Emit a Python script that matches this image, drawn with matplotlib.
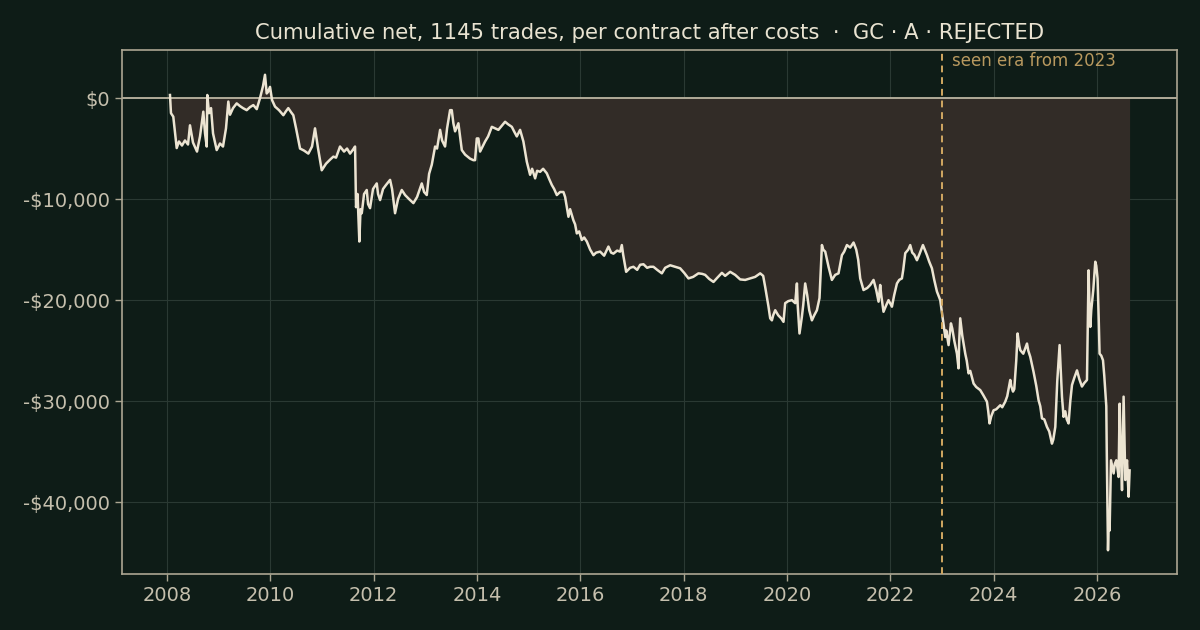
import matplotlib
matplotlib.use("Agg")
import matplotlib.pyplot as plt
import numpy as np

# ---- data (decimal year, cumulative net $) ----
trade_year = [
2008.058,2008.077,2008.122,2008.188,2008.232,2008.290,2008.348,2008.407,2008.445,2008.503,
2008.581,2008.639,2008.703,2008.736,2008.769,2008.780,2008.813,2008.852,2008.891,2008.962,
2009.026,2009.084,2009.142,2009.187,2009.220,2009.278,2009.349,2009.413,2009.471,2009.543,
2009.607,2009.671,2009.737,2009.801,2009.859,2009.897,2009.930,2009.955,2009.994,2010.033,
2010.091,2010.168,2010.252,2010.304,2010.348,2010.401,2010.445,2010.498,2010.575,2010.652,
2010.736,2010.807,2010.865,2010.924,2010.995,2011.078,2011.156,2011.220,2011.272,2011.349,
2011.427,2011.485,2011.543,2011.601,2011.640,2011.659,2011.688,2011.723,2011.746,2011.770,
2011.814,2011.866,2011.892,2011.930,2011.988,2012.060,2012.085,2012.124,2012.182,2012.240,
2012.318,2012.356,2012.414,2012.472,2012.544,2012.608,2012.685,2012.769,2012.840,2012.931,
2012.976,2013.028,2013.073,2013.125,2013.189,2013.227,2013.286,2013.324,2013.382,2013.421,
2013.479,2013.512,2013.543,2013.576,2013.640,2013.706,2013.770,2013.866,2013.930,2013.963,
2013.996,2014.027,2014.060,2014.157,2014.215,2014.287,2014.350,2014.414,2014.486,2014.544,
2014.602,2014.674,2014.718,2014.770,2014.834,2014.898,2014.964,2015.028,2015.067,2015.125,
2015.164,2015.222,2015.280,2015.351,2015.396,2015.448,2015.493,2015.545,2015.609,2015.673,
2015.706,2015.770,2015.802,2015.866,2015.899,2015.932,2015.977,2016.029,2016.074,2016.126,
2016.190,2016.254,2016.306,2016.383,2016.461,2016.544,2016.596,2016.641,2016.712,2016.771,
2016.803,2016.829,2016.887,2016.964,2017.028,2017.100,2017.158,2017.222,2017.293,2017.351,
2017.415,2017.487,2017.578,2017.642,2017.739,2017.835,2017.932,2018.010,2018.093,2018.184,
2018.286,2018.358,2018.416,2018.494,2018.577,2018.648,2018.740,2018.803,2018.900,2018.997,
2019.094,2019.191,2019.287,2019.384,2019.481,2019.539,2019.578,2019.642,2019.675,2019.708,
2019.733,2019.772,2019.830,2019.888,2019.932,2019.965,2020.023,2020.095,2020.126,2020.159,
2020.192,2020.207,2020.242,2020.288,2020.314,2020.352,2020.391,2020.430,2020.482,2020.527,
2020.579,2020.629,2020.676,2020.701,2020.740,2020.804,2020.869,2020.933,2020.997,2021.063,
2021.107,2021.160,2021.224,2021.288,2021.340,2021.378,2021.417,2021.481,2021.553,2021.611,
2021.675,2021.727,2021.772,2021.804,2021.824,2021.868,2021.921,2021.965,2022.031,2022.075,
2022.128,2022.172,2022.224,2022.250,2022.289,2022.347,2022.385,2022.424,2022.463,2022.515,
2022.560,2022.631,2022.666,2022.709,2022.753,2022.805,2022.850,2022.902,2022.966,2023.018,
2023.063,2023.082,2023.127,2023.173,2023.198,2023.237,2023.289,2023.320,2023.334,2023.353,
2023.392,2023.450,2023.479,2023.514,2023.547,2023.611,2023.663,2023.740,2023.799,2023.870,
2023.895,2023.920,2023.953,2023.998,2024.050,2024.128,2024.166,2024.224,2024.263,2024.321,
2024.340,2024.374,2024.399,2024.437,2024.463,2024.496,2024.515,2024.573,2024.645,2024.670,
2024.708,2024.772,2024.825,2024.869,2024.902,2024.935,2024.980,2025.032,2025.076,2025.128,
2025.154,2025.193,2025.231,2025.276,2025.299,2025.322,2025.353,2025.386,2025.415,2025.450,
2025.483,2025.516,2025.560,2025.613,2025.657,2025.709,2025.754,2025.806,2025.822,2025.837,
2025.851,2025.870,2025.889,2025.928,2025.967,2025.986,2026.011,2026.034,2026.050,2026.083,
2026.116,2026.141,2026.160,2026.180,2026.189,2026.213,2026.228,2026.244,2026.271,2026.296,
2026.322,2026.345,2026.374,2026.393,2026.418,2026.438,2026.461,2026.484,2026.499,2026.515,
2026.529,2026.548,2026.567,2026.581,2026.596,2026.612,2026.631,
]
cum_net = [
300,-1500,-1850,-4950,-4300,-4700,-4200,-4600,-2700,-4400,
-5300,-3800,-1350,-3500,-4800,300,-1500,-1000,-3500,-5150,
-4500,-4800,-3000,-350,-1650,-1000,-530,-800,-1000,-1200,
-900,-700,-1100,0,1200,2300,450,600,1100,-200,
-850,-1200,-1700,-1300,-1000,-1400,-1700,-3000,-5000,-5200,
-5500,-4800,-3000,-5000,-7150,-6500,-6100,-5800,-5900,-4800,
-5300,-5000,-5500,-5100,-4800,-10800,-9500,-14200,-11000,-11400,
-9500,-9100,-10500,-10900,-9000,-8450,-9500,-10100,-9000,-8600,
-8100,-9000,-11400,-10000,-9100,-9600,-10000,-10400,-9800,-8450,
-9300,-9600,-7500,-6600,-4800,-5000,-3150,-4200,-4800,-3000,
-1200,-1200,-2500,-3300,-2500,-5150,-5600,-6000,-6150,-6150,
-4000,-4000,-5300,-4300,-3800,-2850,-3000,-3150,-2700,-2350,
-2600,-2850,-3300,-3800,-3150,-4300,-6300,-7600,-7000,-7950,
-7200,-7300,-7000,-7450,-8000,-8600,-9000,-9600,-9300,-9300,
-9800,-11750,-11000,-12100,-12500,-13400,-13200,-14050,-13800,-14200,
-15000,-15550,-15300,-15200,-15600,-14700,-15300,-15400,-15100,-15200,
-14550,-15500,-17200,-16800,-16700,-17000,-16500,-16450,-16800,-16700,
-16700,-17000,-17350,-16800,-16550,-16700,-16850,-17300,-17850,-17700,
-17350,-17400,-17500,-17900,-18200,-17800,-17300,-17600,-17200,-17500,
-17950,-18000,-17850,-17700,-17350,-17600,-18700,-20650,-21800,-22000,
-21500,-21000,-21500,-21800,-22150,-20300,-20100,-20000,-20150,-20300,
-18350,-20500,-23300,-21650,-20500,-18350,-19500,-21000,-22000,-21500,
-21000,-19800,-14550,-15000,-15200,-16700,-18000,-17500,-17350,-15550,
-15200,-14550,-14800,-14300,-15000,-16000,-17850,-19000,-18800,-18500,
-18000,-19000,-20150,-18500,-19500,-21150,-20500,-20000,-20650,-19500,
-18350,-18000,-17850,-17000,-15350,-15000,-14550,-15300,-15500,-16050,
-15500,-14550,-15000,-15550,-16200,-16850,-18000,-19150,-20000,-22000,
-23650,-23000,-24450,-22300,-22800,-24000,-25300,-26750,-24000,-21800,
-23500,-25300,-26000,-27250,-27000,-28250,-28600,-28900,-29400,-30050,
-31000,-32200,-31500,-30900,-30800,-30400,-30600,-30050,-29500,-27900,
-28500,-29050,-28800,-26000,-23300,-24500,-24950,-25300,-24300,-25000,
-25600,-27100,-28500,-29900,-30500,-31700,-31800,-32550,-33000,-34200,
-33800,-32550,-28000,-24450,-27000,-29550,-31550,-31000,-31800,-32200,
-30000,-28400,-27700,-26950,-27800,-28550,-28200,-27900,-22000,-17050,
-20000,-22650,-21000,-19000,-16200,-16600,-17850,-22000,-25300,-25500,
-25950,-27500,-28900,-30500,-35000,-44750,-42000,-42800,-35850,-36500,
-37150,-36200,-35850,-36500,-37500,-30250,-35000,-38800,-34000,-29550,
-33000,-37800,-36500,-35850,-37500,-39450,-36850,
]
n_trades = 1145
seen_from = 2023.0
year_ticks = [2008, 2010, 2012, 2014, 2016, 2018, 2020, 2022, 2024, 2026]
dollar_ticks = [0, -10000, -20000, -30000, -40000]

BG = "#0e1c17"
FILL = "#322c27"
LINE = "#ece4d2"
SPINE = "#aca692"
GRID = "#2a3933"
TICK = "#c5bfad"
TITLE = "#e9e3d1"
ERA = "#d2a862"
ERA_TEXT = "#b8995f"

x = np.array(trade_year)
y = np.array(cum_net, dtype=float)

fig = plt.figure(figsize=(12, 6.3), dpi=100, facecolor=BG)
ax = fig.add_axes([0.1017, 0.0889, 0.8792, 0.8317], facecolor=BG)

ax.fill_between(x, y, 0, color=FILL, linewidth=0, zorder=1)
ax.plot(x, y, color=LINE, linewidth=1.8, zorder=3)
ax.axhline(0, color="#bcb5a2", linewidth=1.3, zorder=2)
ax.axvline(seen_from, color=ERA, linewidth=1.4, linestyle=(0, (3.5, 2.5)), zorder=4)

ax.set_xlim(2007.13, 2027.55)
ax.set_ylim(-47100, 4750)
ax.set_xticks(year_ticks)
ax.set_xticklabels([str(t) for t in year_ticks])
ax.set_yticks(dollar_ticks)
ax.set_yticklabels(["$0" if v == 0 else "-${:,}".format(-v) for v in dollar_ticks])

ax.grid(True, color=GRID, linewidth=0.8, zorder=0)
ax.set_axisbelow(True)
for s in ax.spines.values():
    s.set_color(SPINE)
    s.set_linewidth(1.2)
ax.tick_params(colors=SPINE, labelcolor=TICK, labelsize=14, length=5, width=1.0)

ax.text(seen_from + 0.2, 4600, "seen era from %d" % int(seen_from), color=ERA_TEXT,
        fontsize=12, va="top", ha="left", zorder=5)

ax.set_title("Cumulative net, %d trades, per contract after costs  \u00b7  GC \u00b7 A \u00b7 REJECTED" % n_trades,
             color=TITLE, fontsize=15.2, pad=8)

fig.savefig("out.png", dpi=100, facecolor=BG)
